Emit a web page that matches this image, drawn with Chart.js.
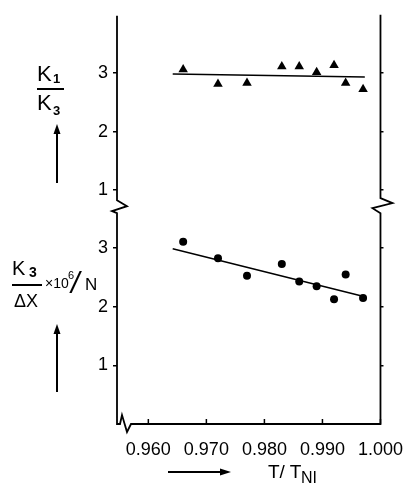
<!DOCTYPE html>
<html>
<head>
<meta charset="utf-8">
<script src="https://cdn.jsdelivr.net/npm/chart.js@4.4.1/dist/chart.umd.min.js"></script>
<style>
  html, body { margin: 0; padding: 0; background: #fff; }
  #wrap { position: relative; width: 410px; height: 484px; font-family: "Liberation Sans", Arial, sans-serif; color: #000; }
  #grafico { position: absolute; left: 0; top: 0; }
  #setas { position: absolute; left: 0; top: 0; pointer-events: none; }
  .txt { position: absolute; line-height: 1; white-space: nowrap; }
</style>
</head>
<body>
<div id="wrap">
  <canvas id="grafico" width="410" height="484"></canvas>
  <svg id="setas" width="410" height="484">
    <!-- barras das frações e setas -->
    <rect x="37" y="88" width="27" height="2" fill="#000"/>
    <line x1="57" y1="183" x2="57" y2="132" stroke="#000" stroke-width="2"/>
    <polygon points="57,124 53.5,134 60.5,134" fill="#000"/>
    <rect x="12" y="284" width="30" height="2" fill="#000"/>
    <line x1="57" y1="392" x2="57" y2="332" stroke="#000" stroke-width="2"/>
    <polygon points="57,324 53.5,334 60.5,334" fill="#000"/>
    <line x1="168" y1="472" x2="222" y2="472" stroke="#000" stroke-width="2"/>
    <polygon points="231,472 220,468.5 220,475.5" fill="#000"/>
  </svg>
  <!-- titulo do painel de cima -->
  <span class="txt" style="left:37px;top:63px;font-size:22px">K</span>
  <span class="txt" style="left:53px;top:72px;font-size:13px;font-weight:bold">1</span>
  <span class="txt" style="left:37px;top:92px;font-size:22px">K</span>
  <span class="txt" style="left:53px;top:104px;font-size:13px;font-weight:bold">3</span>
  <!-- titulo do painel de baixo -->
  <span class="txt" style="left:12px;top:258px;font-size:20px">K</span>
  <span class="txt" style="left:29px;top:265px;font-size:14px;font-weight:bold">3</span>
  <span class="txt" style="left:14px;top:292px;font-size:18px">ΔX</span>
  <span class="txt" style="left:45px;top:276px;font-size:14px">×10</span>
  <span class="txt" style="left:68px;top:270px;font-size:11px">6</span>
  <span class="txt" style="left:71px;top:268px;font-size:30px;font-style:italic">/</span>
  <span class="txt" style="left:85px;top:276px;font-size:17px">N</span>
  <!-- titulo do eixo x -->
  <span class="txt" style="left:268px;top:462px;font-size:19px">T/ T</span>
  <span class="txt" style="left:301px;top:470px;font-size:16px">NI</span>
</div>
<script>
// dados
var tRazao = [0.966, 0.972, 0.977, 0.983, 0.986, 0.989, 0.992, 0.994, 0.997];
var k1k3 = [3.06, 2.81, 2.83, 3.11, 3.11, 3.01, 3.13, 2.83, 2.72];
var k3dx = [3.11, 2.83, 2.53, 2.73, 2.43, 2.35, 2.13, 2.55, 2.15];

// retas ajustadas
var retaX = [0.9642, 0.9973];
var retaK1K3 = [2.98, 2.93];
var retaK3dx = [2.99, 2.17];

var xTicks = [0.960, 0.970, 0.980, 0.990, 1.000];
var yTicks = [1, 2, 3];

function pares(xs, ys) {
  var out = [];
  for (var i = 0; i < xs.length; i++) out.push({x: xs[i], y: ys[i]});
  return out;
}

var fonte = {family: "'Liberation Sans', Arial, sans-serif", size: 18};

function eixoY(pos, peso, min, max) {
  return {
    type: 'linear',
    position: pos,
    stack: pos,
    stackWeight: peso,
    min: min,
    max: max,
    border: {display: false},
    grid: {drawOnChartArea: false, drawTicks: true, tickLength: pos == 'left' ? 4 : 3, color: '#000', lineWidth: 1.5},
    ticks: {display: pos == 'left', color: '#000', font: fonte, padding: 5},
    afterBuildTicks: function (scale) {
      scale.ticks = yTicks.map(function (v) { return {value: v}; });
    },
    afterFit: function (scale) {
      scale.width = pos == 'left' ? 117 : 29;
    }
  };
}

// desenha as linhas dos eixos com as quebras
var quebras = {
  id: 'quebras',
  afterDraw: function (chart) {
    var ctx = chart.ctx;
    var a = chart.chartArea;
    var L = a.left, R = a.right, T = a.top, B = a.bottom;
    var b = chart.scales.yTop.bottom;
    ctx.save();
    ctx.strokeStyle = '#000';
    ctx.lineWidth = 1.8;
    ctx.lineJoin = 'miter';
    ctx.beginPath();
    // eixo esquerdo
    ctx.moveTo(L, T);
    ctx.lineTo(L, b - 7);
    ctx.lineTo(L + 10, b - 1);
    ctx.lineTo(L - 5, b + 4);
    ctx.lineTo(L, b + 6);
    ctx.lineTo(L, B);
    // eixo x
    ctx.lineTo(L + 3, B);
    ctx.lineTo(L + 5, B - 9);
    ctx.lineTo(L + 10, B + 8);
    ctx.lineTo(L + 14, B);
    ctx.lineTo(R, B);
    // eixo direito
    ctx.lineTo(R, b + 6);
    ctx.lineTo(R - 8, b + 1);
    ctx.lineTo(R + 12, b - 4);
    ctx.lineTo(R, b - 9);
    ctx.lineTo(R, T - 1);
    ctx.stroke();

    // marcas do eixo x para dentro
    var x = chart.scales.x;
    ctx.lineWidth = 1.5;
    ctx.beginPath();
    xTicks.forEach(function (v) {
      var px = x.getPixelForValue(v);
      ctx.moveTo(px, B);
      ctx.lineTo(px, B - 5);
    });
    ctx.stroke();
    ctx.restore();
  }
};

var ctx1 = document.getElementById('grafico').getContext('2d');
var chart = new Chart(ctx1, {
  type: 'scatter',
  data: {
    datasets: [{
      label: 'K1/K3',
      data: pares(tRazao, k1k3),
      yAxisID: 'yTop',
      pointStyle: 'triangle',
      pointRadius: 5.5,
      backgroundColor: '#000',
      borderWidth: 0
    }, {
      label: 'K3/dX',
      data: pares(tRazao, k3dx),
      yAxisID: 'yBot',
      pointStyle: 'circle',
      pointRadius: 4,
      backgroundColor: '#000',
      borderWidth: 0
    }, {
      type: 'line',
      label: 'reta K1/K3',
      data: pares(retaX, retaK1K3),
      yAxisID: 'yTop',
      borderColor: '#000',
      borderWidth: 1.5,
      pointRadius: 0
    }, {
      type: 'line',
      label: 'reta K3/dX',
      data: pares(retaX, retaK3dx),
      yAxisID: 'yBot',
      borderColor: '#000',
      borderWidth: 1.5,
      pointRadius: 0
    }]
  },
  options: {
    responsive: false,
    animation: false,
    devicePixelRatio: 1,
    layout: {padding: {top: 14, left: 0, right: 0, bottom: 0}},
    plugins: {legend: {display: false}, tooltip: {enabled: false}},
    scales: {
      x: {
        type: 'linear',
        position: 'bottom',
        min: 0.9546,
        max: 1.000,
        border: {display: false},
        grid: {display: false},
        ticks: {
          color: '#000',
          font: fonte,
          padding: 7,
          maxRotation: 0,
          autoSkip: false,
          callback: function (v) { return v.toFixed(3); }
        },
        afterBuildTicks: function (scale) {
          scale.ticks = xTicks.map(function (v) { return {value: v}; });
        },
        afterFit: function (scale) { scale.height = 60; }
      },
      yBot: eixoY('left', 3.70, 0, 3.70),
      yTop: eixoY('left', 3.265, 0.71, 3.975),
      yTopR: eixoY('right', 3.265, 0.71, 3.975),
      yBotR: eixoY('right', 3.70, 0, 3.70)
    }
  },
  plugins: [quebras]
});
</script>
</body>
</html>
